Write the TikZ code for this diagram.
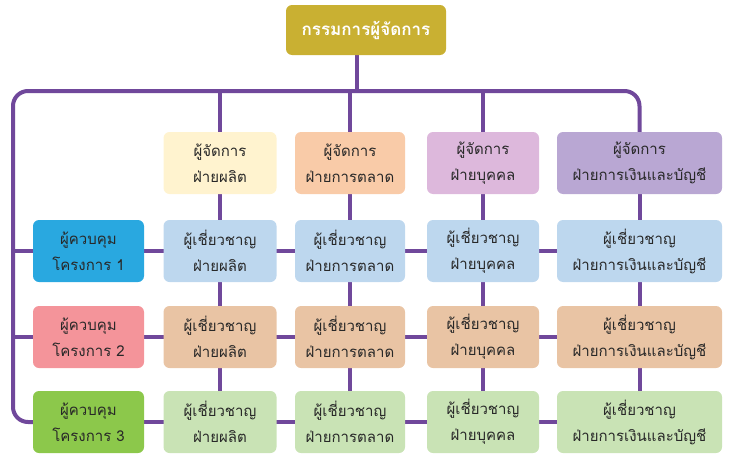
\documentclass[tikz,border=0pt]{standalone}
\usepackage{fontspec}
\newfontfamily\thaifont[Script=Thai]{Loma}
\usetikzlibrary{backgrounds}
\definecolor{linkc}{RGB}{112,72,155}
\definecolor{textc}{RGB}{40,40,40}
\definecolor{bossc}{RGB}{201,176,50}
\definecolor{mgrA}{RGB}{255,243,207}
\definecolor{mgrB}{RGB}{249,203,168}
\definecolor{mgrC}{RGB}{221,184,220}
\definecolor{mgrD}{RGB}{185,167,211}
\definecolor{ctlA}{RGB}{41,168,224}
\definecolor{ctlB}{RGB}{244,148,154}
\definecolor{ctlC}{RGB}{140,200,75}
\definecolor{rowA}{RGB}{189,215,238}
\definecolor{rowB}{RGB}{233,196,164}
\definecolor{rowC}{RGB}{201,227,181}

\tikzset{
  box/.style={rounded corners=6pt, minimum height=62pt, align=center, inner sep=0pt,
    text=textc, font=\thaifont\fontsize{15}{26}\selectfont},
  colA/.style={box, minimum width=113pt},
  colB/.style={box, minimum width=110pt},
  colC/.style={box, minimum width=112pt},
  colD/.style={box, minimum width=165pt},
  ctlbox/.style={box, minimum width=111pt},
  link/.style={draw=linkc, line width=4pt},
}

\begin{document}
\begin{tikzpicture}[x=1pt,y=-1pt]
            \useasboundingbox (0,0) rectangle (731,463);

            % top
            \node[box, fill=bossc, minimum width=160pt, minimum height=50pt, text=white,
                  font=\thaifont\bfseries\fontsize{17}{20}\selectfont] (boss) at (366,30) {กรรมการผู้จัดการ};
            \coordinate (top) at (357,91);
            \coordinate (left) at (13,91);

            % managers
            \node[colA, fill=mgrA] (m1) at (220,163) {ผู้จัดการ\\ฝ่ายผลิต};
            \node[colB, fill=mgrB] (m2) at (350,163) {ผู้จัดการ\\ฝ่ายการตลาด};
            \node[colC, fill=mgrC] (m3) at (483,163) {ผู้จัดการ\\ฝ่ายบุคคล};
            \node[colD, fill=mgrD] (m4) at (639.5,163) {ผู้จัดการ\\ฝ่ายการเงินและบัญชี};

            % project controllers
            \node[ctlbox, fill=ctlA] (c1) at (88.5,251) {ผู้ควบคุม\\โครงการ 1};
            \node[ctlbox, fill=ctlB] (c2) at (88.5,337) {ผู้ควบคุม\\โครงการ 2};
            \node[ctlbox, fill=ctlC] (c3) at (88.5,422) {ผู้ควบคุม\\โครงการ 3};

            % experts
            \node[colA, fill=rowA] (e11) at (220,251) {ผู้เชี่ยวชาญ\\ฝ่ายผลิต};
            \node[colB, fill=rowA] (e12) at (350,251) {ผู้เชี่ยวชาญ\\ฝ่ายการตลาด};
            \node[colC, fill=rowA] (e13) at (483,251) {ผู้เชี่ยวชาญ\\ฝ่ายบุคคล};
            \node[colD, fill=rowA] (e14) at (639.5,251) {ผู้เชี่ยวชาญ\\ฝ่ายการเงินและบัญชี};

            \node[colA, fill=rowB] (e21) at (220,337) {ผู้เชี่ยวชาญ\\ฝ่ายผลิต};
            \node[colB, fill=rowB] (e22) at (350,337) {ผู้เชี่ยวชาญ\\ฝ่ายการตลาด};
            \node[colC, fill=rowB] (e23) at (483,337) {ผู้เชี่ยวชาญ\\ฝ่ายบุคคล};
            \node[colD, fill=rowB] (e24) at (639.5,337) {ผู้เชี่ยวชาญ\\ฝ่ายการเงินและบัญชี};

            \node[colA, fill=rowC] (e31) at (220,422) {ผู้เชี่ยวชาญ\\ฝ่ายผลิต};
            \node[colB, fill=rowC] (e32) at (350,422) {ผู้เชี่ยวชาญ\\ฝ่ายการตลาด};
            \node[colC, fill=rowC] (e33) at (483,422) {ผู้เชี่ยวชาญ\\ฝ่ายบุคคล};
            \node[colD, fill=rowC] (e34) at (639.5,422) {ผู้เชี่ยวชาญ\\ฝ่ายการเงินและบัญชี};

            % connectors
            \begin{pgfonlayer}{background}
                \draw[link] (boss.south -| top) -- (top);
                \draw[link, rounded corners=15pt] (c3) -| (left) -| (m4);
                \draw[link] (m1 |- left) -- (e31);
                \draw[link] (m2 |- left) -- (e32);
                \draw[link] (m3 |- left) -- (e33);
                \draw[link] (m4) -- (e34);
                \draw[link] (c1 -| left) -- (e14);
                \draw[link] (c2 -| left) -- (e24);
                \draw[link] (c3) -- (e34);
            \end{pgfonlayer}
        \end{tikzpicture}
\end{document}
